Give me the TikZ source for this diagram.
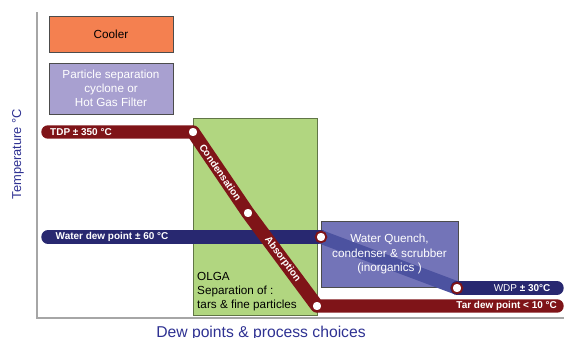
\documentclass[tikz,border=0pt]{standalone}
\usepackage{fontspec}
\setmainfont{Liberation Sans}
\usetikzlibrary{positioning}

\definecolor{tarred}{RGB}{127,20,24}
\definecolor{waterblue}{RGB}{40,40,112}
\definecolor{bandblue}{RGB}{76,82,160}
\definecolor{coolerorange}{RGB}{244,128,80}
\definecolor{filterlilac}{RGB}{168,160,208}
\definecolor{olgagreen}{RGB}{177,214,128}
\definecolor{quenchblue}{RGB}{115,116,184}
\definecolor{axisblue}{RGB}{46,49,146}

\pgfdeclarelayer{boxes}
\pgfdeclarelayer{bars}
\pgfsetlayers{boxes,bars,main}

\begin{document}
\begin{tikzpicture}[x=0.03cm,y=-0.03cm]
	\tikzset{
		procbox/.style={draw=black!70,line width=0.6pt,minimum width=3.72cm,align=center,font=\fontsize{10}{12}\selectfont},
		boxtext/.style={align=center,font=\fontsize{10}{12}\selectfont,inner sep=0pt},
		dewpt/.style={circle,draw=tarred,fill=white,line width=1.6pt,inner sep=0pt,minimum size=0.32cm},
		tarbar/.style={draw=tarred,line width=11.5pt,line cap=round,line join=round},
		waterbar/.style={draw=waterblue,line width=11.5pt,line cap=round,line join=round},
		barlabel/.style={text=white,font=\bfseries\fontsize{8.5}{10}\selectfont,inner sep=0pt}
	}
	\useasboundingbox (0,0) rectangle (564,337);

	%% axes
	\coordinate (ytop) at (37,12);
	\coordinate (origin) at (37,318);
	\coordinate (xend) at (564,318);
	\draw[gray!70,line width=1.2pt] (ytop) -- (origin) -- (xend);
	\node[rotate=90,text=axisblue,font=\fontsize{11}{13}\selectfont] (ylab) at (18,154) {Temperature °C};
	\node[text=axisblue,font=\fontsize{13.4}{16}\selectfont] (xlab) at (261,333) {Dew points \& process choices};

	%% process boxes
	\begin{pgfonlayer}{boxes}
		\node[procbox,fill=coolerorange,minimum height=1.08cm] (cooler) at (111,34) {Cooler};
		\node[procbox,fill=filterlilac,text=white,minimum height=1.53cm] (filter) at (111,88.5) {Particle separation\\cyclone or\\Hot Gas Filter};
		\node[procbox,draw=olgagreen!55!black,fill=olgagreen,minimum height=5.91cm] (olga) at (255,216.5) {};
		\node[procbox,fill=quenchblue,minimum width=4.11cm,minimum height=1.98cm] (quench) at (389.5,254) {};
	\end{pgfonlayer}
	\node[boxtext,align=left,anchor=south west] (olgatext) at (197,311.5) {OLGA\\Separation of :\\tars \& fine particles};
	\node[boxtext,text=white] (quenchtext) at (quench.center) {Water Quench,\\condenser \& scrubber\\(inorganics )};

	%% dew point markers
	\node[dewpt] (t1) at (193,132) {};
	\node[dewpt] (t2) at (248,213) {};
	\node[dewpt] (t3) at (317,306) {};
	\node[dewpt] (w1) at (321,237) {};
	\node[dewpt] (w2) at (457,288) {};
	\coordinate (tdpstart) at (48,132);
	\coordinate (tarend) at (557,306);
	\coordinate (wdpstart) at (48,237);
	\coordinate (wdpend) at (557,288);

	%% dew point lines
	\begin{pgfonlayer}{bars}
		\draw[waterbar] (wdpstart) -- (w1.center)
			node[barlabel,pos=0,anchor=west,xshift=0.03cm] {Water dew point ± 60 °C};
		\draw[draw=bandblue,line width=11.5pt] (w1.center) -- (w2.center);
		\draw[waterbar] (w2.center) -- (wdpend)
			node[barlabel,pos=1,anchor=east] {{\mdseries WDP} ± 30°C};
		\draw[tarbar] (tdpstart) -- (t1.center) -- (t2.center) -- (t3.center) -- (tarend);
		\path (tdpstart) -- (t1.center) node[barlabel,pos=0,anchor=west,xshift=0.06cm] {TDP ± 350 °C};
		\path (t1.center) -- (t2.center) node[barlabel,midway,sloped] {Condensation};
		\path (t2.center) -- (t3.center) node[barlabel,midway,sloped] {Absorption};
		\path (t3.center) -- (tarend) node[barlabel,pos=1,anchor=east] {Tar dew point < 10 °C};
	\end{pgfonlayer}
\end{tikzpicture}
\end{document}
